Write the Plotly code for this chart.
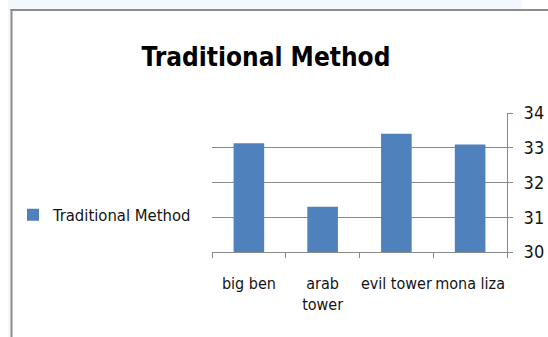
import plotly.graph_objects as go

categories = ["big ben", "arab<br>tower", "evil tower", "mona liza"]
values = [33.13, 31.3, 33.4, 33.09]
series_name = "Traditional Method"
y_ticks = [30, 31, 32, 33, 34]

W, H = 548, 337
ML, MR, MT, MB = 212, 41, 113, 85
PW, PH = W - ML - MR, H - MT - MB

def px(x):
    return (x - ML) / PW

def py(y):
    return (H - MB - y) / PH

FONT = "DejaVu Sans Condensed, Roboto, sans-serif"
GRID = "#8a8a8a"
TXT = "#141414"

fig = go.Figure()
fig.add_trace(go.Bar(
    x=categories, y=values, name=series_name,
    marker=dict(color="#4F81BD", line=dict(width=0)),
    width=0.415, showlegend=True,
))

shapes = [
    dict(type="rect", xref="paper", yref="paper", x0=px(8), x1=px(522), y0=py(0), y1=py(9),
         fillcolor="#f3f8fd", line=dict(width=0), layer="below"),
    dict(type="rect", xref="paper", yref="paper", x0=px(8), x1=px(10.5), y0=py(9), y1=py(337),
         fillcolor="#f3f8fd", line=dict(width=0), layer="below"),
    dict(type="line", xref="paper", yref="paper", x0=px(10.5), x1=px(548), y0=py(10), y1=py(10),
         line=dict(color="#8c8c8c", width=2)),
    dict(type="line", xref="paper", yref="paper", x0=px(11.5), x1=px(11.5), y0=py(9), y1=py(337),
         line=dict(color="#8c8c8c", width=2)),
]

fig.update_layout(
    width=W, height=H,
    margin=dict(l=ML, r=MR, t=MT, b=MB, autoexpand=False),
    paper_bgcolor="white", plot_bgcolor="white",
    font=dict(family=FONT, color=TXT, size=16),
    title=dict(text="<b>Traditional Method</b>", xref="container", yref="container",
               x=266 / W, xanchor="center", y=1 - 57 / H, yanchor="middle",
               font=dict(family=FONT, size=26, color="#000000")),
    showlegend=True,
    legend=dict(xref="container", yref="container", x=13 / W, xanchor="left",
                y=1 - 215 / H, yanchor="middle", font=dict(size=16.5, family=FONT, color=TXT),
                bgcolor="rgba(0,0,0,0)"),
    xaxis=dict(type="category", showline=True, linecolor=GRID, linewidth=1,
               ticks="outside", tickson="boundaries", ticklen=5, tickcolor=GRID,
               showgrid=False, tickfont=dict(size=16, family=FONT, color=TXT),
               ticklabelstandoff=17, tickangle=0, automargin=False),
    yaxis=dict(side="right", range=[30, 34], tickvals=y_ticks, showline=True, linecolor=GRID,
               linewidth=1, ticks="outside", ticklen=5, tickcolor=GRID, showgrid=True,
               gridcolor=GRID, gridwidth=1, zeroline=False, automargin=False,
               tickfont=dict(size=18, family=FONT, color=TXT), ticklabelstandoff=7),
    shapes=shapes,
    bargap=0.585,
)

fig.write_html("out.html")
